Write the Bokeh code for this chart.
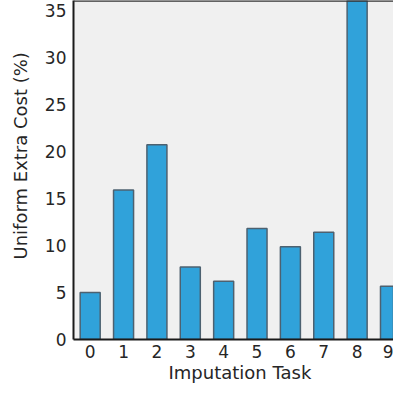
from bokeh.plotting import figure
from bokeh.models import ColumnDataSource, FixedTicker, Span, Title
from bokeh.embed import file_html
from bokeh.resources import INLINE

# ---- data ----
tasks = [0, 1, 2, 3, 4, 5, 6, 7, 8, 9]
extra_cost = [5.0, 15.9, 20.7, 7.7, 6.2, 11.8, 9.85, 11.4, 38.0, 5.66]
y_ticks = [0, 5, 10, 15, 20, 25, 30, 35]
x_label = "Imputation Task"
y_label = "Uniform Extra Cost (%)"

# ---- layout ----
W, H = 393, 386
FONT = "DejaVu Sans"
TXT = "#262626"

src = ColumnDataSource(dict(x=tasks, top=extra_cost))

p = figure(width=W, height=H, output_backend="svg", toolbar_location=None,
           x_range=(-0.5, 9.09), y_range=(0, 36.05),
           min_border_left=71, min_border_right=0, min_border_top=0,
           min_border_bottom=47)

p.background_fill_color = "#f0f0f0"
p.border_fill_color = "white"
p.outline_line_color = None
p.grid.visible = False

p.vbar(x="x", top="top", width=0.6, bottom=0, source=src,
       fill_color="#30a2da", line_color="#4d6170", line_width=1.5)

for ax in (p.xaxis[0], p.yaxis[0]):
    ax.major_tick_in = 0
    ax.major_tick_out = 0
    ax.minor_tick_in = 0
    ax.minor_tick_out = 0
    ax.axis_line_color = "#1a1a1a"
    ax.axis_line_width = 2
    ax.major_label_text_font = FONT
    ax.major_label_text_font_size = "17px"
    ax.major_label_text_color = TXT

p.xaxis[0].ticker = FixedTicker(ticks=tasks)
p.yaxis[0].ticker = FixedTicker(ticks=y_ticks)
p.xaxis[0].major_label_standoff = 5
p.yaxis[0].major_label_standoff = 7

# top frame line
p.add_layout(Span(location=36.05, dimension="width", line_color="#333333",
                  line_width=2.5))

# axis titles
p.add_layout(Title(text=x_label, align="left", offset=95, vertical_align="bottom",
                   standoff=-2, text_font=FONT, text_font_size="18px",
                   text_font_style="normal", text_color=TXT), "below")
p.add_layout(Title(text=y_label, align="left", offset=80, vertical_align="top",
                   standoff=18, text_font=FONT, text_font_size="18px",
                   text_font_style="normal", text_color=TXT), "left")

open("out.html", "w").write(file_html(p, INLINE))
